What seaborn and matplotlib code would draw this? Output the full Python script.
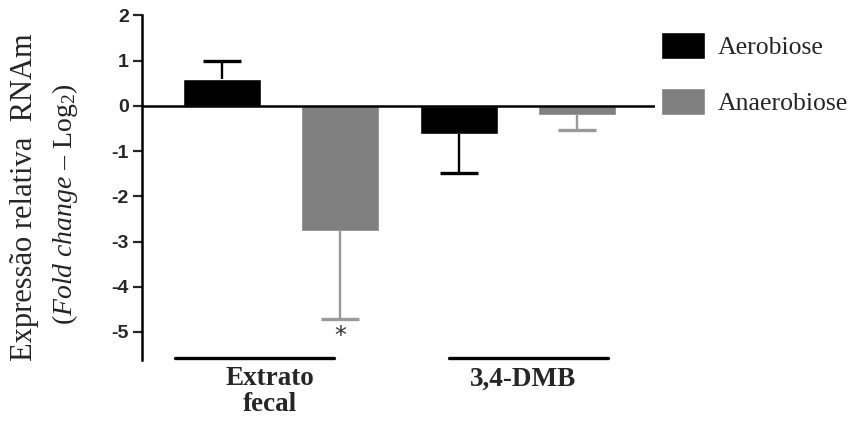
import matplotlib
matplotlib.use('Agg')
import matplotlib.pyplot as plt
import seaborn as sns
import pandas as pd

######### DATA #########
grupos = ['Extrato fecal', 'Extrato fecal', '3,4-DMB', '3,4-DMB']
condicoes = ['Aerobiose', 'Anaerobiose', 'Aerobiose', 'Anaerobiose']
valores = [0.59, -2.77, -0.62, -0.19]
erros = [0.41, 1.95, 0.86, 0.35]
yticks = [2, 1, 0, -1, -2, -3, -4, -5]

cores = {'Aerobiose': 'black', 'Anaerobiose': '#808080'}
cores_erro = {'Aerobiose': 'black', 'Anaerobiose': '#9a9a9a'}

df = pd.DataFrame({'grupo': grupos, 'condicao': condicoes, 'valor': valores, 'erro': erros})

sns.set_style('white')
plt.rcParams['font.family'] = ['Liberation Serif', 'DejaVu Serif']
plt.rcParams['mathtext.fontset'] = 'custom'
plt.rcParams['mathtext.rm'] = 'Liberation Serif'
plt.rcParams['mathtext.it'] = 'Liberation Serif:italic'

fig = plt.figure(figsize=(8.58, 4.23), dpi=100)
ax = fig.add_axes([142/858, 1 - 360/423, (655 - 142)/858, (360 - 15.5)/423])

sns.barplot(data=df, x='grupo', y='valor', hue='condicao', palette=cores,
            width=1.0, gap=0.34, errorbar=None, ax=ax, saturation=1)

# one-sided error bars (only the end away from zero gets a cap)
cap = 0.08  # half width of cap in x data units
for cont, cond in zip(ax.containers, ['Aerobiose', 'Anaerobiose']):
    sub = df[df['condicao'] == cond].reset_index(drop=True)
    for patch, (_, row) in zip(cont.patches, sub.iterrows()):
        xc = patch.get_x() + patch.get_width() / 2
        sinal = 1 if row['valor'] >= 0 else -1
        fim = row['valor'] + sinal * row['erro']
        ax.plot([xc, xc], [row['valor'], fim], color=cores_erro[cond], lw=1.7,
                solid_capstyle='butt', zorder=1)
        ax.plot([xc - cap, xc + cap], [fim, fim], color=cores_erro[cond], lw=2.4,
                solid_capstyle='butt', zorder=1)

# asterisk under anaerobic fecal extract
ax.text(0.25, -5.1, '*', ha='center', va='center', fontsize=17, color='#333333',
        family=['DejaVu Sans'])

ax.axhline(0, color='black', lw=1.8, zorder=5)
ax.set_ylim(-5.62, 2)
ax.set_xlim(-0.588, 1.58)
ax.set_yticks(yticks)
ax.set_yticklabels([str(t) for t in yticks], fontsize=14, fontweight='bold',
                   family=['Liberation Sans'])
ax.tick_params(axis='y', direction='out', length=6.5, width=1.6, pad=3, left=True)
ax.set_xticks([])
ax.set_xlabel('')
ax.set_ylabel('')
for s in ['top', 'right', 'bottom']:
    ax.spines[s].set_visible(False)
ax.spines['left'].set_linewidth(1.8)
ax.spines['left'].set_color('black')

# group lines and labels below the axis
ax.plot([-0.449, 0.223], [-5.57, -5.57], color='black', lw=2.4, clip_on=False)
ax.plot([0.709, 1.381], [-5.57, -5.57], color='black', lw=2.4, clip_on=False)
ax.text(-0.047, -5.76, 'Extrato\nfecal', ha='center', va='top', fontsize=19.5,
        fontweight='bold', linespacing=1.05)
ax.text(1.022, -5.76, '3,4-DMB', ha='center', va='top', fontsize=19.5, fontweight='bold')

# y label (two lines)
fig.text(25/858, 1 - 197/423, 'Expressão relativa  RNAm', rotation=90,
         ha='center', va='center', fontsize=22)
fig.text(65/858, 1 - 204/423, r'($\mathit{Fold\ change}$ – Log$_2$)', rotation=90,
         ha='center', va='center', fontsize=20, color='#222222')

sns.move_legend(ax, loc='upper left', bbox_to_anchor=(661/858, 1 - 32/423),
                bbox_transform=fig.transFigure, frameon=False, title=None,
                fontsize=18.5, handlelength=1.71, handleheight=1.25,
                labelspacing=1.13, handletextpad=0.5, borderpad=0, borderaxespad=0)

fig.savefig('out.png', dpi=100)
